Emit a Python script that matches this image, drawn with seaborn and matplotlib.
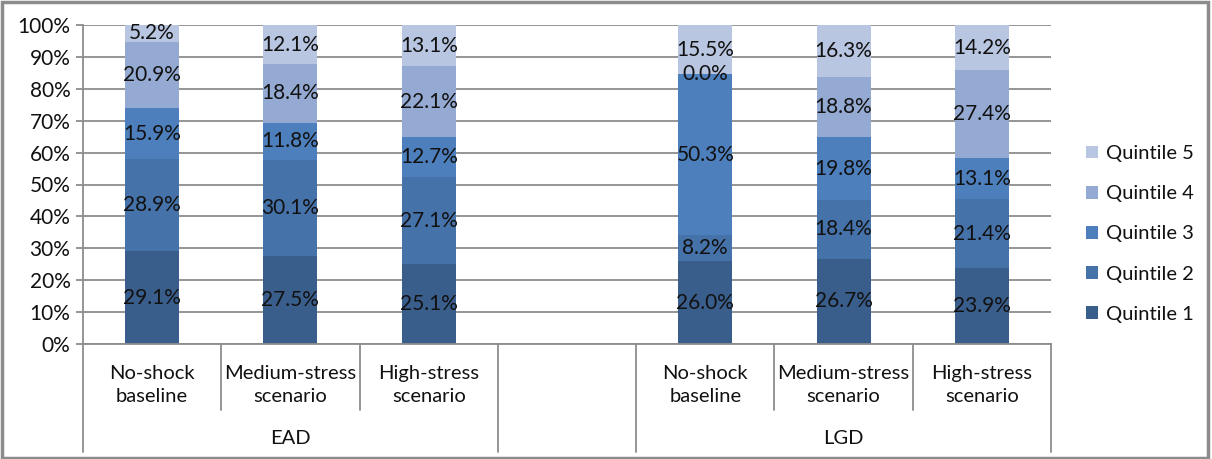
import numpy as np
import pandas as pd
import matplotlib
matplotlib.use("Agg")
import matplotlib.pyplot as plt
import seaborn as sns
from matplotlib.patches import Rectangle, Patch
from matplotlib.transforms import blended_transform_factory

# ---- data -------------------------------------------------------------
groups = ["EAD", "LGD"]
scenarios = ["No-shock\nbaseline", "Medium-stress\nscenario", "High-stress\nscenario"]
quintiles = ["Quintile 1", "Quintile 2", "Quintile 3", "Quintile 4", "Quintile 5"]

# shares (%) per quintile, one list per bar: EAD x3, LGD x3
ead_noshock = [29.1, 28.9, 15.9, 20.9, 5.2]
ead_medium = [27.5, 30.1, 11.8, 18.4, 12.1]
ead_high = [25.1, 27.1, 12.7, 22.1, 13.1]
lgd_noshock = [26.0, 8.2, 50.3, 0.0, 15.5]
lgd_medium = [26.7, 18.4, 19.8, 18.8, 16.3]
lgd_high = [23.9, 21.4, 13.1, 27.4, 14.2]

colors = ["#3A5E8C", "#4672AA", "#4D7FBC", "#94AAD2", "#B9C6E1"]

# ---- layout of slots (empty slot between the two groups) --------------
slots = ["EAD-0", "EAD-1", "EAD-2", "gap", "LGD-0", "LGD-1", "LGD-2"]
bars = {
    "EAD-0": ead_noshock, "EAD-1": ead_medium, "EAD-2": ead_high,
    "LGD-0": lgd_noshock, "LGD-1": lgd_medium, "LGD-2": lgd_high,
}

rows = []
for slot, vals in bars.items():
    cum = np.cumsum(vals)
    for q, v, c in zip(quintiles, vals, cum):
        rows.append({"slot": slot, "quintile": q, "value": v, "top": c})
df = pd.DataFrame(rows)

sns.set_theme(style="white")
plt.rcParams["font.family"] = ["Lato", "DejaVu Sans"]

TXT = "#111111"
NUM_FS = 15
LAB_FS = 14.5

fig = plt.figure(figsize=(12.12, 4.59), dpi=100)
ax = fig.add_axes([83 / 1212, 1 - 344 / 459, (1051 - 83) / 1212, (344 - 25) / 459])

grid_c = "#8C8C8C"
ax.set_axisbelow(True)
ax.yaxis.grid(True, color=grid_c, linewidth=1.3)

# stacked bars: draw cumulative heights from the top layer down
for q, col in reversed(list(zip(quintiles, colors))):
    sub = df[df["quintile"] == q]
    sns.barplot(data=sub, x="slot", y="top", order=slots, color=col,
                width=0.39, saturation=1, ax=ax, errorbar=None, linewidth=0)

# value labels in the middle of each segment
for i, slot in enumerate(slots):
    if slot not in bars:
        continue
    vals = bars[slot]
    base = 0.0
    for v in vals:
        ax.text(i, base + v / 2, f"{v:.1f}%", ha="center", va="center",
                fontsize=NUM_FS, color=TXT)
        base += v

ax.set_xlim(-0.5, len(slots) - 0.5)
ax.set_ylim(0, 100)
ax.set_yticks(np.arange(0, 101, 10))
ax.set_yticklabels([f"{t}%" for t in range(0, 101, 10)], fontsize=NUM_FS, color=TXT)
ax.tick_params(axis="y", which="both", left=True, length=5, width=1.3,
               color=grid_c, pad=4)
ax.set_xticks([])
ax.set_xlabel("")
ax.set_ylabel("")
for s in ["top", "right"]:
    ax.spines[s].set_visible(False)
for s in ["left", "bottom"]:
    ax.spines[s].set_color(grid_c)
    ax.spines[s].set_linewidth(1.3)

# two-level category axis
tr = blended_transform_factory(ax.transData, ax.transAxes)
ypx = lambda p: (344 - p) / (344 - 25)
for b in [0.5, 1.5, 4.5, 5.5]:
    ax.plot([b, b], [0, ypx(410)], transform=tr, color=grid_c, lw=1.3, clip_on=False)
for b in [-0.5, 2.5, 3.5, 6.5]:
    ax.plot([b, b], [0, ypx(452)], transform=tr, color=grid_c, lw=1.3, clip_on=False)
for i, slot in enumerate(slots):
    if slot == "gap":
        continue
    lab = scenarios[int(slot[-1])]
    ax.text(i, ypx(385), lab, transform=tr, ha="center", va="center",
            fontsize=LAB_FS, color=TXT, linespacing=1.4)
for g, center in zip(groups, [1, 5]):
    ax.text(center, ypx(438), g, transform=tr, ha="center", va="center",
            fontsize=LAB_FS, color=TXT)

# legend, top quintile first
handles = [Patch(facecolor=c, edgecolor="none") for c in colors][::-1]
fig.legend(handles, quintiles[::-1], loc="center left",
           bbox_to_anchor=(1068 / 1212, 1 - 234 / 459), frameon=False,
           fontsize=LAB_FS, handlelength=0.6, handleheight=0.6, handletextpad=0.4,
           labelspacing=1.15, labelcolor=TXT)

# outer frame of the chart
fig.patches.append(Rectangle((0.002, 0.003), 0.995, 0.992, transform=fig.transFigure,
                             fill=False, edgecolor="#8C8C8C", linewidth=2.5))

fig.savefig("out.png", dpi=100)
